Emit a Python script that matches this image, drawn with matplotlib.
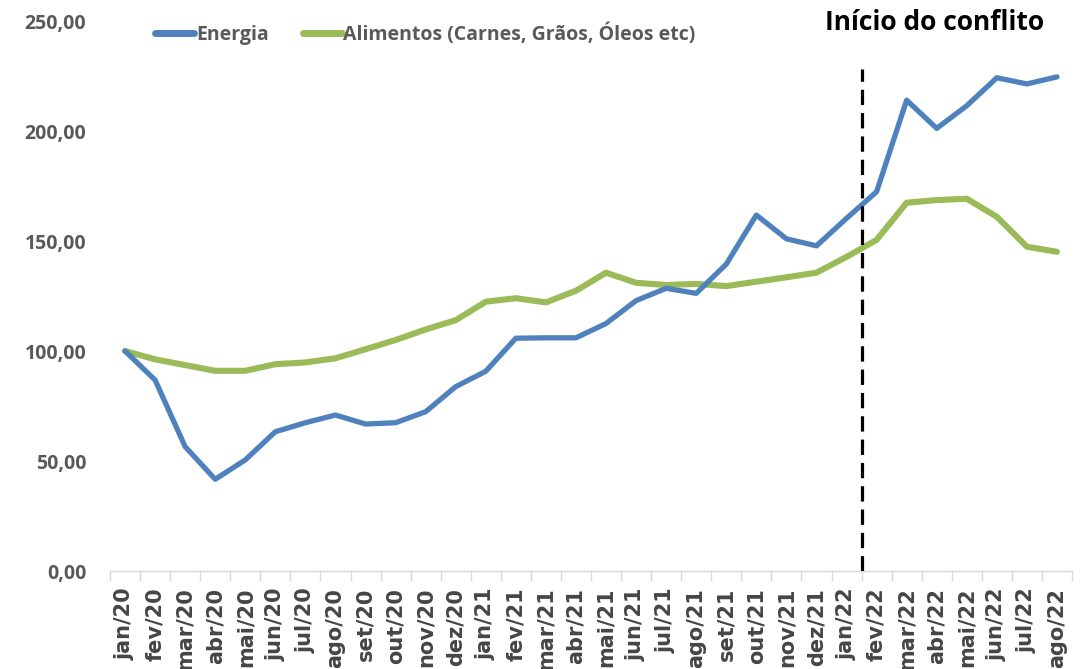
import matplotlib
matplotlib.use("Agg")
import matplotlib.pyplot as plt
from matplotlib.ticker import FixedLocator, FuncFormatter

meses = ["jan/20", "fev/20", "mar/20", "abr/20", "mai/20", "jun/20", "jul/20", "ago/20",
         "set/20", "out/20", "nov/20", "dez/20", "jan/21", "fev/21", "mar/21", "abr/21",
         "mai/21", "jun/21", "jul/21", "ago/21", "set/21", "out/21", "nov/21", "dez/21",
         "jan/22", "fev/22", "mar/22", "abr/22", "mai/22", "jun/22", "jul/22", "ago/22"]

energia = [100.0, 86.8, 56.5, 41.7, 50.5, 63.3, 67.4, 70.9,
           66.8, 67.4, 72.4, 83.8, 90.8, 105.8, 106.0, 106.0,
           112.5, 122.9, 128.5, 126.2, 139.5, 161.8, 151.0, 147.8,
           160.3, 172.4, 214.0, 201.2, 211.5, 224.2, 221.4, 224.6]

alimentos = [100.0, 96.2, 93.6, 91.0, 91.0, 94.0, 94.8, 96.7,
             100.8, 105.0, 109.8, 114.0, 122.4, 124.0, 122.1, 127.4,
             135.6, 131.0, 130.0, 130.5, 129.5, 131.5, 133.5, 135.6,
             142.8, 150.5, 167.4, 168.6, 169.2, 161.0, 147.4, 145.1]

serie_nomes = ["Energia", "Alimentos (Carnes, Grãos, Óleos etc)"]
titulo = "Início do conflito"
inicio_conflito = 24.5   # between jan/22 and fev/22
topo_conflito = 228
y_ticks = [0, 50, 100, 150, 200, 250]

W, H = 1087, 669
fig = plt.figure(figsize=(W / 100, H / 100), dpi=100)
ax = fig.add_axes([110 / W, (H - 571) / H, (1072 - 110) / W, (571 - 21) / H])

x = list(range(len(meses)))
ax.plot(x, energia, color="#4F81BD", lw=3.8, solid_joinstyle="round", solid_capstyle="round",
        label=serie_nomes[0], zorder=3)
ax.plot(x, alimentos, color="#9BBB59", lw=4.4, solid_joinstyle="round", solid_capstyle="round",
        label=serie_nomes[1], zorder=2)

ln, = ax.plot([inicio_conflito, inicio_conflito], [0, topo_conflito], color="black", lw=2.3, zorder=4)
ln.set_dashes((4.8, 2.5))

ax.set_xlim(-0.5, len(meses) - 0.5)
ax.set_ylim(0, 250)

for s in ["left", "right", "top"]:
    ax.spines[s].set_visible(False)
ax.spines["bottom"].set_color("#d9d9d9")
ax.spines["bottom"].set_linewidth(1.0)

ax.yaxis.set_major_locator(FixedLocator(y_ticks))
ax.yaxis.set_major_formatter(FuncFormatter(lambda v, p: f"{v:.2f}".replace(".", ",")))
ax.tick_params(axis="y", length=0, pad=17, labelsize=14, labelcolor="#595959")
for t in ax.get_yticklabels():
    t.set_fontfamily("Open Sans")
    t.set_fontweight("bold")

ax.set_xticks(x)
ax.set_xticklabels(meses, rotation=90, fontsize=15, fontweight="bold",
                   fontfamily="DejaVu Sans", color="#454545")
ax.set_xticks([i - 0.5 for i in range(len(meses) + 1)], minor=True)
ax.tick_params(axis="x", which="major", length=0, pad=12)
ax.tick_params(axis="x", which="minor", length=7, color="#d9d9d9", width=1.0)

leg = ax.legend(loc="center left", bbox_to_anchor=(155 / W, (H - 34) / H),
                bbox_transform=fig.transFigure, ncol=2, frameon=False,
                handlelength=2.0, handletextpad=0.1, columnspacing=1.75,
                borderpad=0, borderaxespad=0,
                prop={"family": "Open Sans", "weight": "bold", "size": 14})
for t in leg.get_texts():
    t.set_color("#595959")
for h in leg.get_lines():
    h.set_linewidth(5)
    h.set_solid_capstyle("round")

fig.text(825 / W, (H - 22) / H, titulo, ha="left", va="center",
         fontsize=19, fontweight="bold", fontfamily="Open Sans", color="black")

fig.savefig("out.png", dpi=100, facecolor="white")
